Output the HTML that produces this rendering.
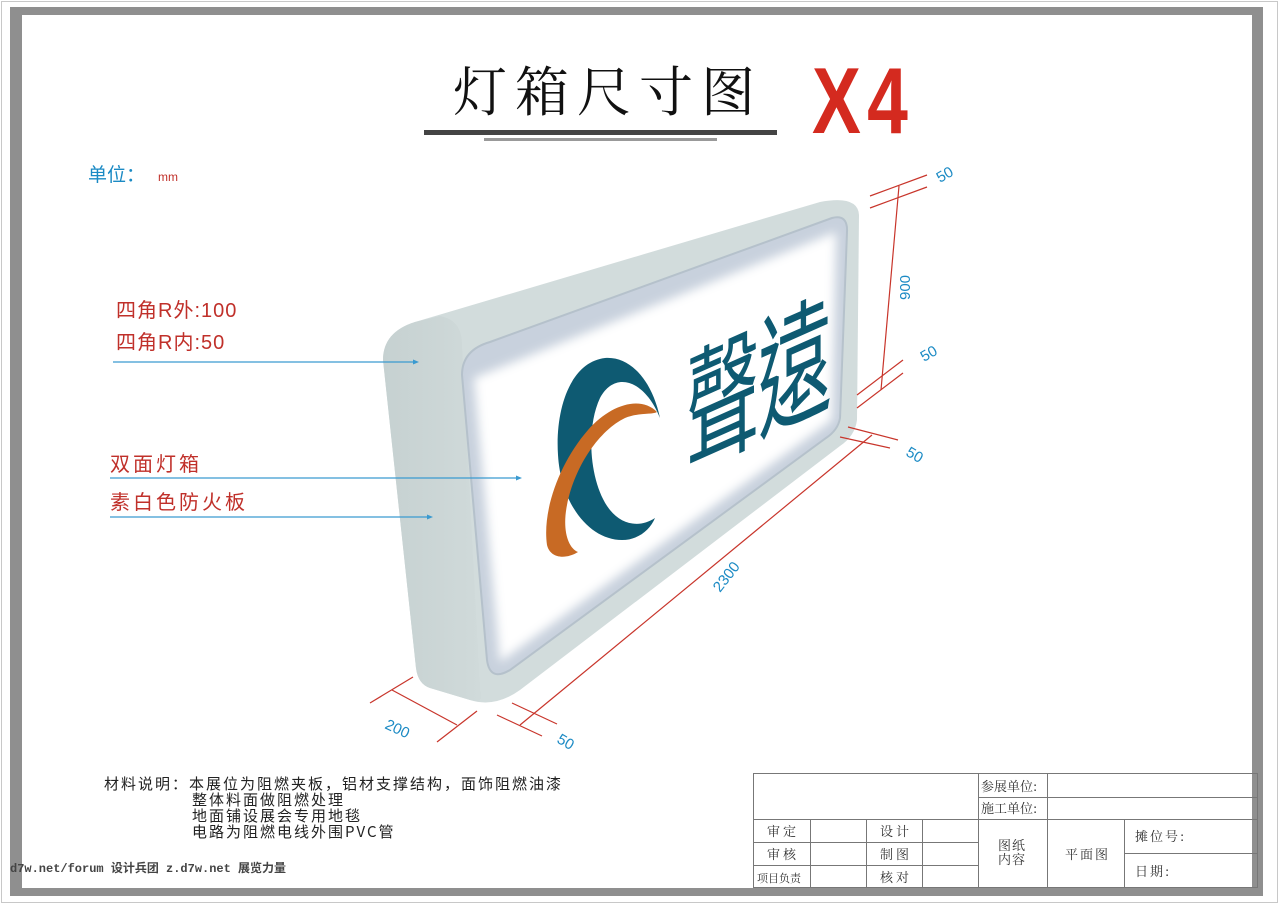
<!DOCTYPE html>
<html><head><meta charset="utf-8"><style>
html,body{margin:0;padding:0;background:#fff;}
body{width:1279px;height:904px;position:relative;overflow:hidden;font-family:"Liberation Sans","Noto Sans CJK SC",sans-serif;}
svg{position:absolute;left:0;top:0;}
</style></head><body>
<svg width="1279" height="904" viewBox="0 0 1279 904" xmlns="http://www.w3.org/2000/svg">
<defs>
<linearGradient id="side" x1="0" y1="0" x2="1" y2="0"><stop offset="0" stop-color="#c6d1d1"/><stop offset="1" stop-color="#d0dada"/></linearGradient>
<filter id="blur" x="-10%" y="-10%" width="120%" height="120%"><feGaussianBlur stdDeviation="5"/></filter>
<clipPath id="pc"><path d="M462 375 Q462 350 490 342 L832 218 Q848 214 847 232 L840 418 Q838 430 826 438 L510 670 Q490 682 487 660 Z"/></clipPath>
</defs>
<rect x="1.5" y="1.5" width="1276" height="901" fill="none" stroke="#c8c8c8" stroke-width="1"/>
<rect x="10" y="7" width="1253" height="889" fill="#8f8f8f"/>
<rect x="22" y="15" width="1230" height="873" fill="#fff"/>

<text x="453" y="111" font-family="'Liberation Serif','Noto Serif CJK SC',serif" font-size="54" letter-spacing="8" fill="#111">灯箱尺寸图</text>
<rect x="424" y="130" width="353" height="5" fill="#444"/>
<rect x="484" y="138" width="233" height="3" fill="#999"/>
<text x="0" y="0" transform="translate(812,133) scale(0.78,1)" font-size="94" font-weight="bold" fill="#d42a1f" letter-spacing="8">X4</text>

<text x="88" y="181" font-size="19" fill="#1b8ac4" font-family="'Noto Sans CJK SC',sans-serif">单位：</text>
<text x="158" y="181" font-size="12" fill="#c0302a">mm</text>

<g fill="#c0302a" font-size="20" font-family="'Liberation Sans','Noto Sans CJK SC',sans-serif">
<text x="116" y="317" letter-spacing="1">四角R外:100</text>
<text x="116" y="349" letter-spacing="1">四角R内:50</text>
<text x="110" y="471" letter-spacing="3">双面灯箱</text>
<text x="110" y="509" letter-spacing="3">素白色防火板</text>
</g>

<path d="M383 360 Q383 332 415 322 L820 202 Q858 195 859 215 L857 420 Q855 436 840 446 L520 690 Q495 708 470 700 L430 688 Q418 684 416 668 Z" fill="#d2dcdc"/>
<path d="M383 360 Q383 332 415 322 L440 316 Q462 320 462 345 L480 690 Q485 704 470 700 L430 688 Q418 684 416 668 Z" fill="url(#side)"/>
<path d="M462 375 Q462 350 490 342 L832 218 Q848 214 847 232 L840 418 Q838 430 826 438 L510 670 Q490 682 487 660 Z" fill="#c8d1dd" stroke="#b5c1cb" stroke-width="2"/>
<g clip-path="url(#pc)">
<path d="M474 378 L836 232 L832 420 L500 662 Z" fill="#ffffff" filter="url(#blur)"/>
</g>

<path d="M660 418 C652 380 630 356 605 358 C570 362 555 410 558 455 C561 505 590 540 622 540 C638 540 650 530 655 518 C640 528 622 525 610 510 C590 485 585 430 600 398 C615 370 645 380 660 418 Z" fill="#0e5a72"/>
<path d="M657 412 C640 395 610 405 588 430 C560 462 542 510 547 545 C550 558 565 560 578 552 C568 548 562 530 567 505 C575 465 600 430 625 418 C640 412 652 415 657 412 Z" fill="#c86a24"/>

<g fill="#0e5a72" font-family="'Noto Sans CJK TC','Noto Sans CJK SC',sans-serif" font-size="74">
<text transform="translate(686,466) skewY(-24) scale(1,1.8)">聲</text>
<text transform="translate(758,432) skewY(-24) scale(1,1.8)">遠</text>
</g>

<g stroke="#3a9ad0" stroke-width="1.2" fill="#3a9ad0">
<line x1="113" y1="362" x2="414" y2="362"/><path d="M419 362 l-6 -2.5 v5z" stroke="none"/>
<line x1="110" y1="478" x2="517" y2="478"/><path d="M522 478 l-6 -2.5 v5z" stroke="none"/>
<line x1="110" y1="517" x2="428" y2="517"/><path d="M433 517 l-6 -2.5 v5z" stroke="none"/>
</g>

<g stroke="#c8352b" stroke-width="1.2">
<line x1="870" y1="196" x2="927" y2="175"/>
<line x1="870" y1="208" x2="927" y2="187"/>
<line x1="899" y1="186" x2="881" y2="390"/>
<line x1="857" y1="395" x2="903" y2="360"/>
<line x1="857" y1="408" x2="903" y2="373"/>
<line x1="848" y1="427" x2="898" y2="440"/>
<line x1="840" y1="437" x2="890" y2="448"/>
<line x1="872" y1="435" x2="520" y2="725"/>
<line x1="370" y1="703" x2="413" y2="677"/>
<line x1="392" y1="690" x2="457" y2="725"/>
<line x1="437" y1="742" x2="477" y2="711"/>
<line x1="497" y1="715" x2="542" y2="736"/>
<line x1="512" y1="703" x2="557" y2="724"/>
</g>
<g fill="#1b8ac4" font-size="15">
<text transform="translate(940,183) rotate(-30)">50</text>
<text transform="translate(910,300) rotate(-90)">900</text>
<text transform="translate(924,362) rotate(-30)">50</text>
<text transform="translate(905,455) rotate(30)">50</text>
<text transform="translate(720,593) rotate(-52)">2300</text>
<text transform="translate(384,728) rotate(25)">200</text>
<text transform="translate(556,742) rotate(30)">50</text>
</g>

<g font-size="15" fill="#222" font-family="'Noto Sans CJK SC',sans-serif" letter-spacing="2">
<text x="104" y="789">材料说明：本展位为阻燃夹板，铝材支撑结构，面饰阻燃油漆</text>
<text x="192" y="805">整体料面做阻燃处理</text>
<text x="192" y="821">地面铺设展会专用地毯</text>
<text x="192" y="837">电路为阻燃电线外围PVC管</text>
</g>
<text x="10" y="872" font-size="12" fill="#444" font-weight="bold" font-family="'Liberation Mono','Noto Sans CJK SC',monospace">d7w.net/forum 设计兵团 z.d7w.net 展览力量</text>

<g stroke="#777" stroke-width="1" fill="none">
<rect x="753.5" y="773.5" width="504" height="114"/>
<line x1="978" y1="797.5" x2="1258" y2="797.5"/>
<line x1="753" y1="819.5" x2="1258" y2="819.5"/>
<line x1="753" y1="842.5" x2="978" y2="842.5"/>
<line x1="753" y1="865.5" x2="978" y2="865.5"/>
<line x1="1125" y1="853.5" x2="1258" y2="853.5"/>
<line x1="810.5" y1="819" x2="810.5" y2="888"/>
<line x1="866.5" y1="819" x2="866.5" y2="888"/>
<line x1="922.5" y1="819" x2="922.5" y2="888"/>
<line x1="978.5" y1="773" x2="978.5" y2="888"/>
<line x1="1047.5" y1="773" x2="1047.5" y2="888"/>
<line x1="1124.5" y1="819" x2="1124.5" y2="888"/>
</g>
<g font-size="13" fill="#333" font-family="'Noto Serif CJK SC',serif">
<text x="981" y="791">参展单位:</text>
<text x="981" y="813">施工单位:</text>
<text x="767" y="836" letter-spacing="3">审定</text>
<text x="767" y="859" letter-spacing="3">审核</text>
<text x="757" y="882" font-size="11">项目负责</text>
<text x="880" y="836" letter-spacing="3">设计</text>
<text x="880" y="859" letter-spacing="3">制图</text>
<text x="880" y="882" letter-spacing="3">核对</text>
<text x="998" y="850" letter-spacing="1">图纸</text>
<text x="998" y="864" letter-spacing="1">内容</text>
<text x="1065" y="859" letter-spacing="2">平面图</text>
<text x="1135" y="841" letter-spacing="2">摊位号:</text>
<text x="1135" y="876" letter-spacing="2">日期:</text>
</g>
</svg>
</body></html>
